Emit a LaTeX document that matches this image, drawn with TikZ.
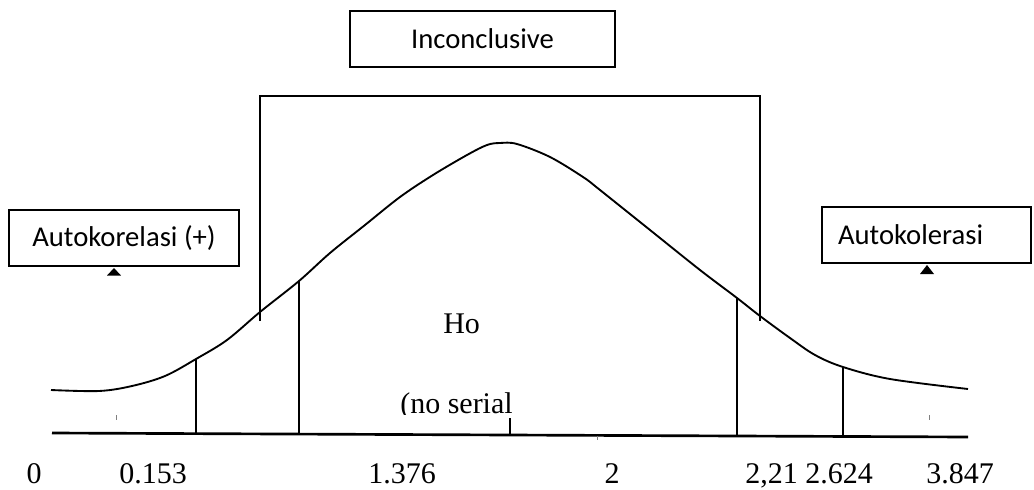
\documentclass[tikz,border=0pt]{standalone}
\usepackage{fontspec}
\setmainfont{Liberation Serif}
\newfontfamily\calib{Carlito}
\begin{document}
\begin{tikzpicture}[x=0.75pt,y=-0.75pt,
  labelbox/.style={draw, line width=1.3pt, inner sep=0pt, minimum height=42pt,
    font=\calib\fontsize{21.5}{24}\selectfont},
  num/.style={anchor=base, inner sep=0pt, font=\fontsize{22.5}{26}\selectfont},
  thinline/.style={line width=1.1pt},
  tri/.style={fill=black}]
\useasboundingbox (0,0) rectangle (1034,489);
% boxes
\node[labelbox, minimum width=198.75pt] (inc) at (482.5,39) {Inconclusive};
\node[labelbox, minimum width=172.5pt] (ak) at (124,238) {Autokorelasi (+)};
\node[labelbox, inner xsep=12pt, text width=132.75pt, align=left] (ak2) at (926.5,235) {Autokolerasi};
% triangles under the side boxes
\fill[tri] (114,268) -- (107,275.5) -- (121,275.5) -- cycle;
\fill[tri] (927,265) -- (920,274) -- (934,274) -- cycle;
% bracket
\draw[line width=1.3pt] (260,321) -- (260,96) -- (760,96) -- (760,321);
% curve
\draw[line width=1.4pt] plot[smooth, tension=0.55] coordinates {
 (51,390) (99,391) (132,386) (165,376) (196,359) (227,340) (260,312) (299,281)
 (330,253) (365,225) (400,197) (433,175) (467,155) (487,145) (500,143) (517,144)
 (550,157) (583,177) (600,190) (650,230) (700,270) (737,298) (760,316) (790,338)
 (815,355) (843,367) (890,379) (968,389)};
% axis
\coordinate (axL) at (52,433);
\coordinate (axR) at (968,437);
\draw[line width=2pt] (axL) -- (axR);
% verticals
\draw[thinline] (196,359) -- (196,433.5);
\draw[thinline] (299,281) -- (299,434);
\draw[thinline] (737,298) -- (737,436);
\draw[thinline] (843,367) -- (843,437);
\draw[thinline] (510,418) -- (510,435);
% tiny marks
\draw[line width=0.4pt, gray] (116,415) -- (116,420);
\draw[line width=0.4pt, gray] (929,415) -- (929,420);
\draw[line width=0.4pt, gray] (597,436) -- (597,440);
% inner texts
\node[num, anchor=base west] (ho) at (443,333) {Ho};
\begin{scope}
\clip (390,380) rectangle (530,414);
\node[num, anchor=base west] (ns) at (400,413) {(no serial};
\end{scope}
% axis labels
\node[num] (l0) at (34,483) {0};
\node[num] (l1) at (153,483) {0.153};
\node[num] (l2) at (402,483) {1.376};
\node[num] (l3) at (612,483) {2};
\node[num, anchor=base west] (l4) at (745,483) {2,21 2.624};
\node[num] (l6) at (960,483) {3.847};
\end{tikzpicture}
\end{document}
